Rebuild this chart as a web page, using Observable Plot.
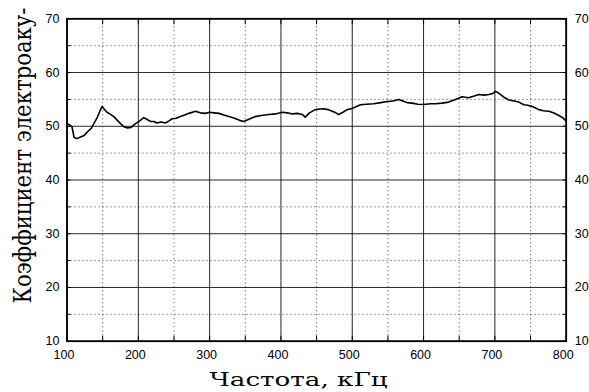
<!DOCTYPE html>
<html>
<head>
<meta charset="utf-8">
<script src="https://cdn.jsdelivr.net/npm/d3@7"></script>
<script src="https://cdn.jsdelivr.net/npm/@observablehq/plot@0.6"></script>
<style>
  html, body { margin: 0; padding: 0; background: #fff; }
  #chart { width: 589px; height: 392px; }
</style>
</head>
<body>
<div id="chart"></div>
<script>
const freq = [100,103,107,110,114,119,124,130.5,134,137.6,142,146,149.4,152,156,160,165.6,170,175,180,184.4,190,196,202,207.7,212,217,222,226,232,238,243,247.5,253,259,265,271,280,287,294,300,306,313,320,327,335,342,348,355,364,372,383,392,402,409,416,423,430,434,440,448,455,460,466,472,477,481,487,493,500,506,511.6,520,530,540,549,557,565,571,577,584,592,600,610,617,626,635,645,654,663,670,677.5,685,691.5,697,701,704,708,714,719.6,727,733.6,740.6,746,752,757,761.6,768,775.6,782,789.7,795,799];
const coef = [50.5,50.3,49.9,47.9,47.7,48.0,48.3,49.2,49.6,50.5,51.5,52.8,53.7,53.2,52.6,52.3,51.8,51.2,50.5,49.9,49.7,49.8,50.5,51.0,51.6,51.3,50.9,50.9,50.6,50.8,50.6,51.0,51.4,51.5,51.8,52.1,52.4,52.8,52.5,52.4,52.6,52.5,52.4,52.1,51.8,51.5,51.1,50.9,51.3,51.8,52.0,52.2,52.3,52.6,52.5,52.3,52.4,52.2,51.7,52.5,53.1,53.2,53.25,53.1,52.8,52.5,52.2,52.6,53.1,53.3,53.7,54.0,54.1,54.2,54.4,54.6,54.7,55.0,54.7,54.4,54.3,54.1,54.05,54.2,54.2,54.3,54.5,55.0,55.5,55.3,55.6,55.9,55.8,55.9,56.1,56.5,56.3,55.9,55.3,54.9,54.7,54.5,54.0,53.9,53.7,53.4,53.1,52.9,52.8,52.5,52.0,51.6,51.1];

const xMajor = [100,200,300,400,500,600,700,800];
const xMinor = [150,250,350,450,550,650,750];
const yMajor = [10,20,30,40,50,60,70];
const yMinor = [15,25,35,45,55,65];
const xInner = [100,150,200,250,300,350,400,450,500,550,600,650,700,750,800];
const yInner = [10,15,20,25,30,35,40,45,50,55,60,65,70];
const xTitle = "Частота, кГц";
const yTitle = "Коэффициент электроаку-";

const data = freq.map((f, i) => ({f, v: coef[i]}));

const plot = Plot.plot({
  width: 589,
  height: 392,
  marginLeft: 66.5,
  marginRight: 23.3,
  marginTop: 18.3,
  marginBottom: 51.3,
  style: {fontFamily: "'Liberation Sans', Arial, sans-serif", fontSize: "12.5px", background: "#fff", color: "#000", overflow: "visible"},
  x: {domain: [100, 800]},
  y: {domain: [10, 70]},
  marks: [
    Plot.gridX(xMinor, {stroke: "#000", strokeOpacity: 0.75, strokeDasharray: "1,3"}),
    Plot.gridY(yMinor, {stroke: "#000", strokeOpacity: 0.75, strokeDasharray: "1,3"}),
    Plot.gridX(xMajor, {stroke: "#000", strokeOpacity: 0.85, strokeWidth: 1}),
    Plot.gridY(yMajor, {stroke: "#000", strokeOpacity: 0.85, strokeWidth: 1}),
    Plot.axisX(xMajor, {anchor: "bottom", tickSize: 0, tickPadding: 9, dx: -3, label: null, fill: "#000"}),
    Plot.axisY(yMajor, {anchor: "left", tickSize: 0, tickPadding: 7.5, label: null, fill: "#000"}),
    Plot.axisY(yMajor, {anchor: "right", tickSize: 0, tickPadding: 8.5, label: null, fill: "#000"}),
    Plot.axisX(xInner, {anchor: "top", tickSize: -5, tickFormat: () => "", label: null, stroke: "#000"}),
    Plot.axisX(xInner, {anchor: "bottom", tickSize: -5, tickFormat: () => "", label: null, stroke: "#000"}),
    Plot.axisY(yInner, {anchor: "left", tickSize: -4, tickFormat: () => "", label: null, stroke: "#000"}),
    Plot.axisY(yInner, {anchor: "right", tickSize: -4, tickFormat: () => "", label: null, stroke: "#000"}),
    Plot.frame({stroke: "#000", strokeWidth: 1.8}),
    Plot.line(data, {x: "f", y: "v", stroke: "#000", strokeWidth: 1.6, strokeLinejoin: "round"}),
    Plot.text([xTitle], {frameAnchor: "bottom", dx: -18, dy: 38.5, lineAnchor: "middle", textAnchor: "middle",
      fontFamily: "'DejaVu Serif', serif", fontSize: 19, fill: "#000"}),
    Plot.text([yTitle], {frameAnchor: "left", dx: -44, dy: -24.5, rotate: -90, lineAnchor: "middle", textAnchor: "middle",
      fontFamily: "'DejaVu Serif', serif", fontSize: 24, fill: "#000"})
  ]
});

d3.select(plot).selectAll("text").each(function() {
  const t = this.textContent;
  if (t === xTitle) { this.setAttribute("textLength", 178); this.setAttribute("lengthAdjust", "spacingAndGlyphs"); }
  if (t === yTitle) { this.setAttribute("textLength", 296); this.setAttribute("lengthAdjust", "spacingAndGlyphs"); }
});

document.getElementById("chart").appendChild(plot);
</script>
</body>
</html>
